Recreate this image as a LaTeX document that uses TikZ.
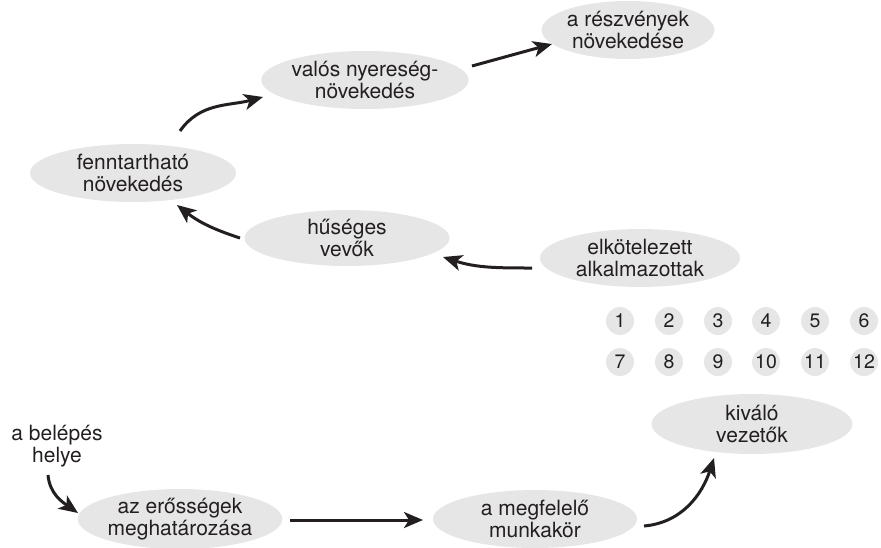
\documentclass[tikz,border=0pt]{standalone}
\usepackage{fontspec}
\setmainfont{TeX Gyre Heros}
\usetikzlibrary{shapes.geometric,arrows.meta,calc}
\definecolor{bubfill}{HTML}{E6E6E6}
\definecolor{ink}{HTML}{231F20}
\tikzset{
  bub/.style={ellipse, fill=bubfill, inner sep=0pt, align=center, text=ink,
    minimum width=#1, minimum height=58pt, font=\fontsize{21}{22.5}\selectfont},
  bub/.default=204pt,
  num/.style={circle, fill=bubfill, inner sep=0pt, minimum size=28pt, text=ink,
    font=\fontsize{19.5}{20}\selectfont},
  arr/.style={draw=ink, line width=3pt, -{Stealth[length=19pt,width=16pt,inset=5pt]}},
  plain/.style={align=center, text=ink, font=\fontsize{21}{22.5}\selectfont}
}
\begin{document}
\begin{tikzpicture}[x=1pt,y=1pt]
\useasboundingbox (0,0) rectangle (881,-547);
\node[bub=150pt] (rn) at (628,-30) {a részvények\\növekedése};
\node[bub] (vn) at (365,-80) {valós nyereség-\\növekedés};
\node[bub=206pt] (fn) at (133,-173) {fenntartható\\növekedés};
\node[bub=205pt, minimum height=56pt] (hv) at (347,-238) {hűséges\\vevők};
\node[bub=200pt] (ea) at (640,-258) {elkötelezett\\alkalmazottak};
\node[bub=201pt, minimum height=60pt] (kv) at (752,-424) {kiváló\\vezetők};
\node[bub] (es) at (180,-519) {az erősségek\\meghatározása};
\node[bub] (mm) at (535,-519) {a megfelelő\\munkakör};
\node[plain] (bh) at (57,-446) {a belépés\\helye};
\foreach \n/\x/\y in {1/620/321,2/669/321,3/718/321,4/766/321,5/815/321,6/864/321,
  7/620/362,8/669/362,9/718/362,10/766/362,11/815/362,12/864/362}
  \node[num] (c\n) at (\x,-\y) {\n};
% connectors
\draw[arr] ($(fn)+(47,42)$) to[out=55,in=195] ($(vn)+(-102,-17)$);
\draw[arr] ($(vn)+(107,14)$) -- ($(rn)+(-76,-14)$);
\draw[arr] ($(hv)+(-107,0)$) to[out=162,in=-38] ($(fn)+(44,-32)$);
\draw[arr] ($(ea)+(-108,-10)$) to[out=180,in=-18] ($(hv)+(96,-19)$);
\draw[arr] ($(bh)+(-9,-29)$) to[out=-85,in=145] ($(es)+(-102,6)$);
\draw[arr] ($(es)+(110,-1)$) -- ($(mm)+(-112,-1)$);
\draw[arr] ($(mm)+(109,-7)$) to[out=5,in=-108] ($(kv)+(-38,-34)$);
\end{tikzpicture}
\end{document}
